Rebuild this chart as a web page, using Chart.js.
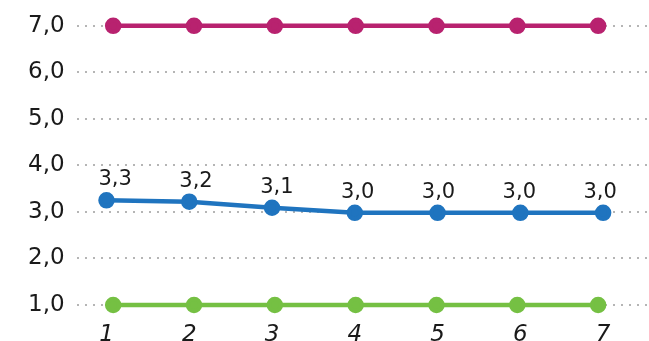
<!DOCTYPE html>
<html lang="en">
<head>
    <meta charset="UTF-8">
    <title>Score lines</title>
    <style>
        html, body {
            margin: 0;
            padding: 0;
            background: #ffffff;
        }
        .wrap {
            width: 649px;
            height: 341px;
        }
    </style>
</head>
<body>
    <div class="wrap">
        <canvas id="scoreChart" width="649" height="341"></canvas>
    </div>

    <script src="https://cdn.jsdelivr.net/npm/chart.js"></script>
    <script>
        const categories = [1, 2, 3, 4, 5, 6, 7];
        const yTicks = [1, 2, 3, 4, 5, 6, 7];
        const topSeries = [7.0, 7.0, 7.0, 7.0, 7.0, 7.0, 7.0];
        const midSeries = [3.25, 3.22, 3.09, 2.98, 2.98, 2.98, 2.98];
        const lowSeries = [1.0, 1.0, 1.0, 1.0, 1.0, 1.0, 1.0];

        const fmt = v => v.toFixed(1).replace('.', ',');

        function toPoints(values) {
            return values.map((v, i) => ({ x: categories[i], y: v }));
        }

        // value labels above the middle line
        const valueLabels = {
            id: 'valueLabels',
            afterDatasetsDraw(chart) {
                const ctx = chart.ctx;
                const meta = chart.getDatasetMeta(1);
                const x2 = chart.scales.x2;
                ctx.save();
                ctx.font = '21px "DejaVu Sans"';
                ctx.fillStyle = '#1a1a1a';
                ctx.textAlign = 'center';
                ctx.textBaseline = 'alphabetic';
                meta.data.forEach((pt, i) => {
                    const px = x2.getPixelForValue(categories[i]) + 2;
                    ctx.fillText(fmt(midSeries[i]), px, pt.y - 15);
                });
                ctx.restore();
            }
        };

        const lineStyle = (color) => ({
            borderColor: color,
            backgroundColor: color,
            pointBackgroundColor: color,
            pointBorderColor: color,
            borderWidth: 4.5,
            pointRadius: 6,
            pointHoverRadius: 6,
            tension: 0,
            clip: false
        });

        const ctx = document.getElementById('scoreChart').getContext('2d');
        new Chart(ctx, {
            type: 'line',
            data: {
                datasets: [
                    Object.assign({ label: 'top', data: toPoints(topSeries), xAxisID: 'x2' }, lineStyle('#b8226f')),
                    Object.assign({ label: 'mid', data: toPoints(midSeries), xAxisID: 'x' }, lineStyle('#1f74bf')),
                    Object.assign({ label: 'low', data: toPoints(lowSeries), xAxisID: 'x2' }, lineStyle('#75c043'))
                ]
            },
            options: {
                responsive: false,
                animation: false,
                layout: {
                    autoPadding: false,
                    padding: { top: 25, left: 16, right: 0, bottom: -17 }
                },
                plugins: {
                    legend: { display: false },
                    tooltip: { enabled: false }
                },
                scales: {
                    x: {
                        type: 'linear',
                        min: 0.6386,
                        max: 7.5543,
                        afterBuildTicks: axis => {
                            axis.ticks = categories.map(v => ({ value: v }));
                        },
                        grid: { display: false },
                        border: { display: false },
                        ticks: {
                            padding: 11,
                            color: '#1a1a1a',
                            font: { family: '"DejaVu Sans"', size: 23, style: 'italic', lineHeight: 1.0 },
                            callback: v => String(v),
                            maxRotation: 0,
                            autoSkip: false
                        }
                    },
                    x2: {
                        type: 'linear',
                        display: false,
                        min: 0.5472,
                        max: 7.6292
                    },
                    y: {
                        min: 1,
                        max: 7,
                        afterBuildTicks: axis => {
                            axis.ticks = yTicks.map(v => ({ value: v }));
                        },
                        grid: {
                            color: '#b5b5b5',
                            lineWidth: 2,
                            drawTicks: false
                        },
                        border: { display: false, dash: [2, 6] },
                        ticks: {
                            padding: 12,
                            color: '#1a1a1a',
                            font: { family: '"DejaVu Sans"', size: 23 },
                            callback: v => fmt(v)
                        }
                    }
                }
            },
            plugins: [valueLabels]
        });
    </script>
</body>
</html>
